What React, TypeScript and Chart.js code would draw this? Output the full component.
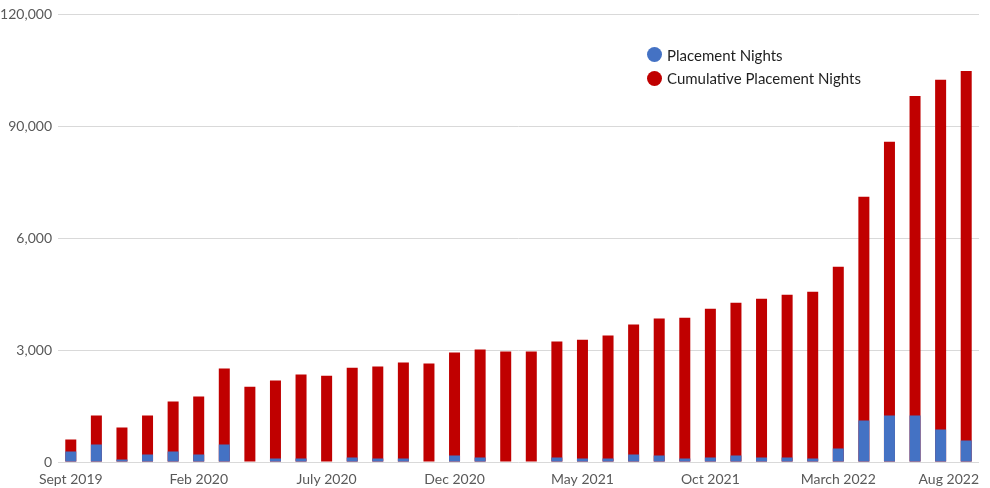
import React, { useEffect, useRef } from "react";
import { Chart, registerables } from "chart.js";

Chart.register(...registerables);

const categories = [
  "Sept 2019", "Oct 2019", "Nov 2019", "Dec 2019", "Jan 2020", "Feb 2020",
  "March 2020", "April 2020", "May 2020", "June 2020", "July 2020", "Aug 2020",
  "Sept 2020", "Oct 2020", "Nov 2020", "Dec 2020", "Jan 2021", "Feb 2021",
  "March 2021", "April 2021", "May 2021", "June 2021", "July 2021", "Aug 2021",
  "Sept 2021", "Oct 2021", "Nov 2021", "Dec 2021", "Jan 2022", "Feb 2022",
  "March 2022", "April 2022", "May 2022", "June 2022", "July 2022", "Aug 2022",
];

const placementNights = [
  2800, 4700, 650, 2000, 2800, 2000, 4700, 0, 950, 950, 0, 1200,
  950, 950, 0, 1750, 1200, 0, 0, 1200, 950, 950, 2000, 1750,
  950, 1200, 1750, 1200, 1200, 950, 3600, 11100, 12450, 12450, 8700, 5750,
];

const cumulativePlacementNights = [
  6000, 12450, 9250, 12450, 16200, 17550, 25050, 20200, 21850, 23450, 23150, 25300,
  25600, 26650, 26400, 29350, 30150, 29600, 29600, 32300, 32800, 33900, 36850, 38450,
  38700, 41100, 42700, 43800, 44850, 45650, 52350, 71100, 85850, 98150, 102450, 104850,
];

const yTickValues = [0, 30000, 60000, 90000, 120000];
const yTickLabels = ["0", "3,000", "6,000", "90,000", "120,000"];

const seriesNames = ["Placement Nights", "Cumulative Placement Nights"];
const seriesColors = ["#4472C4", "#C00000"];

const LABEL_STEP = 5;
const FONT = "Lato, 'Open Sans', sans-serif";
const AXIS_COLOR = "#595959";

const xLabelPlugin = {
  id: "xLabels",
  afterDraw(chart: any) {
    const { ctx, chartArea, scales } = chart;
    const xs = scales.x;
    ctx.save();
    ctx.font = `14px ${FONT}`;
    ctx.fillStyle = AXIS_COLOR;
    ctx.textBaseline = "top";
    ctx.textAlign = "left";
    categories.forEach((label, i) => {
      if (i % LABEL_STEP !== 0) return;
      const w = ctx.measureText(label).width;
      let x = xs.getPixelForValue(i) - w / 2;
      if (x + w > chartArea.right) x = chartArea.right - w;
      ctx.fillText(label, x, chartArea.bottom + 10);
    });
    ctx.restore();
  },
};

export default function App() {
  const canvasRef = useRef<HTMLCanvasElement | null>(null);

  useEffect(() => {
    document.body.style.margin = "0";
    const canvas = canvasRef.current;
    if (!canvas) return;
    const chart = new Chart(canvas, {
      type: "bar",
      data: {
        labels: categories,
        datasets: [
          {
            label: seriesNames[0],
            data: placementNights,
            backgroundColor: seriesColors[0],
            barPercentage: 0.43,
            categoryPercentage: 1,
          },
          {
            label: seriesNames[1],
            data: cumulativePlacementNights,
            backgroundColor: seriesColors[1],
            barPercentage: 0.43,
            categoryPercentage: 1,
          },
        ],
      },
      options: {
        animation: false,
        responsive: false,
        devicePixelRatio: 1,
        layout: { padding: { left: 0, right: 11, top: 13, bottom: 26 } },
        plugins: {
          legend: { display: false },
          tooltip: { enabled: false },
        },
        scales: {
          x: {
            display: false,
            stacked: true,
            offset: true,
          },
          y: {
            stacked: false,
            min: 0,
            max: 120000,
            afterBuildTicks: (scale: any) => {
              scale.ticks = yTickValues.map((v) => ({ value: v }));
            },
            afterFit: (scale: any) => {
              scale.width = 58;
            },
            ticks: {
              padding: 6,
              color: AXIS_COLOR,
              font: { family: FONT, size: 14 },
              callback: (v: any) => yTickLabels[yTickValues.indexOf(Number(v))] ?? "",
            },
            grid: { color: "#d9d9d9", lineWidth: 1, drawTicks: false },
            border: { display: false },
          },
        },
      },
      plugins: [xLabelPlugin],
    });
    return () => chart.destroy();
  }, []);

  return (
    <div style={{ position: "relative", width: 990, height: 488, background: "#fff" }}>
      <canvas ref={canvasRef} width={990} height={488} style={{ display: "block" }} />
      <div style={{ position: "absolute", left: 647, top: 43, fontFamily: FONT, fontSize: 15, color: "#1f1f1f" }}>
        {seriesNames.map((name, i) => (
          <div key={name} style={{ display: "flex", alignItems: "center", height: 23.5, whiteSpace: "nowrap" }}>
            <span
              style={{
                display: "inline-block",
                width: 15,
                height: 15,
                borderRadius: "50%",
                background: seriesColors[i],
                marginRight: 5,
              }}
            />
            <span>{name}</span>
          </div>
        ))}
      </div>
    </div>
  );
}
